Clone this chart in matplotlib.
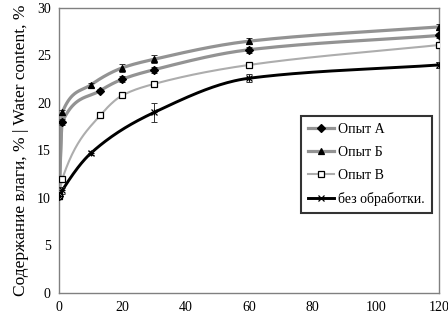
import numpy as np
import matplotlib.pyplot as plt

plt.rcParams['font.family'] = ['Liberation Serif', 'DejaVu Serif']

# ---------------- data ----------------
x_a = [0, 1, 13, 20, 30, 60, 120]
y_a = [10.2, 18.0, 21.3, 22.5, 23.5, 25.6, 27.1]
e_a = [0, 0.3, 0.2, 0.3, 0.3, 0.3, 0.3]

x_b = [0, 1, 10, 20, 30, 60, 120]
y_b = [10.2, 19.0, 21.9, 23.7, 24.6, 26.5, 28.0]
e_b = [0, 0.3, 0.2, 0.4, 0.4, 0.3, 0.3]

x_v = [0, 1, 13, 20, 30, 60, 120]
y_v = [10.2, 12.0, 18.7, 20.8, 22.0, 24.0, 26.1]
e_v = [0, 0.2, 0.2, 0.2, 0.2, 0.2, 0.2]

x_c = [0, 1, 10, 30, 60, 120]
y_c = [10.2, 10.8, 14.7, 19.0, 22.6, 24.0]
e_c = [0.3, 0.4, 0.2, 1.0, 0.4, 0.3]

labels = ["Опыт А", "Опыт Б", "Опыт В", "без обработки."]


def smooth(x, y, n=40):
    # monotone cubic (Fritsch-Carlson) for a smoothed line
    x = np.asarray(x, float); y = np.asarray(y, float)
    h = np.diff(x); d = np.diff(y) / h
    m = np.zeros_like(y)
    m[0] = d[0]; m[-1] = d[-1]
    for i in range(1, len(x) - 1):
        if d[i - 1] * d[i] <= 0:
            m[i] = 0
        else:
            w1 = 2 * h[i] + h[i - 1]; w2 = h[i] + 2 * h[i - 1]
            m[i] = (w1 + w2) / (w1 / d[i - 1] + w2 / d[i])
    px, py = [], []
    for i in range(len(x) - 1):
        t = np.linspace(0, 1, n)
        h00 = 2*t**3 - 3*t**2 + 1; h10 = t**3 - 2*t**2 + t
        h01 = -2*t**3 + 3*t**2; h11 = t**3 - t**2
        px.extend(x[i] + t * h[i])
        py.extend(h00*y[i] + h10*h[i]*m[i] + h01*y[i+1] + h11*h[i]*m[i+1])
    return np.array(px), np.array(py)


fig = plt.figure(figsize=(4.48, 3.18), dpi=100)
ax = fig.add_axes([0.132, 0.079, 0.848, 0.896])

series = [
    (x_a, y_a, e_a, "#939393", 2.3, "D", 4, "#000000", "#000000"),
    (x_b, y_b, e_b, "#939393", 2.3, "^", 5, "#000000", "#000000"),
    (x_v, y_v, e_v, "#adadad", 1.5, "s", 4, "white", "#000000"),
    (x_c, y_c, e_c, "#000000", 2.1, "x", 5, "#000000", "#000000"),
]

handles = []
for (x, y, e, col, lw, mk, ms, fc, ec), lab in zip(series, labels):
    sx, sy = smooth(x, y)
    ax.plot(sx, sy, color=col, lw=lw, zorder=2)
    ax.errorbar(x, y, yerr=e, fmt='none', ecolor="#333333", elinewidth=0.7,
                capsize=2.5, capthick=0.7, zorder=3)
    ax.plot(x, y, ls='none', marker=mk, ms=ms, mfc=fc, mec=ec, mew=0.9, zorder=4)
    if mk == "x":
        ax.plot(x, y, ls='none', marker="+", ms=ms, mec=ec, mew=0.9, zorder=4)
    h, = ax.plot([], [], color=col, lw=lw, marker=mk, ms=ms, mfc=fc, mec=ec, mew=0.9)
    handles.append(h)

ax.set_xlim(0, 120)
ax.set_ylim(0, 30)
ax.set_xticks([0, 20, 40, 60, 80, 100, 120])
ax.set_yticks([0, 5, 10, 15, 20, 25, 30])
ax.tick_params(length=0, labelsize=10, pad=6)
for s in ax.spines.values():
    s.set_color("#808080")
    s.set_linewidth(1.0)

ax.set_ylabel("Содержание влаги, % | Water content, %", fontsize=12.5, labelpad=6)

leg = ax.legend(handles, labels, loc="upper left", bbox_to_anchor=(0.637, 0.621),
                borderaxespad=0, fontsize=10, frameon=True, fancybox=False,
                handlelength=1.9, labelspacing=0.72, borderpad=0.5,
                handletextpad=0.25)
leg.get_frame().set_edgecolor("black")
leg.get_frame().set_linewidth(1.5)

fig.savefig("out.png", dpi=100)
